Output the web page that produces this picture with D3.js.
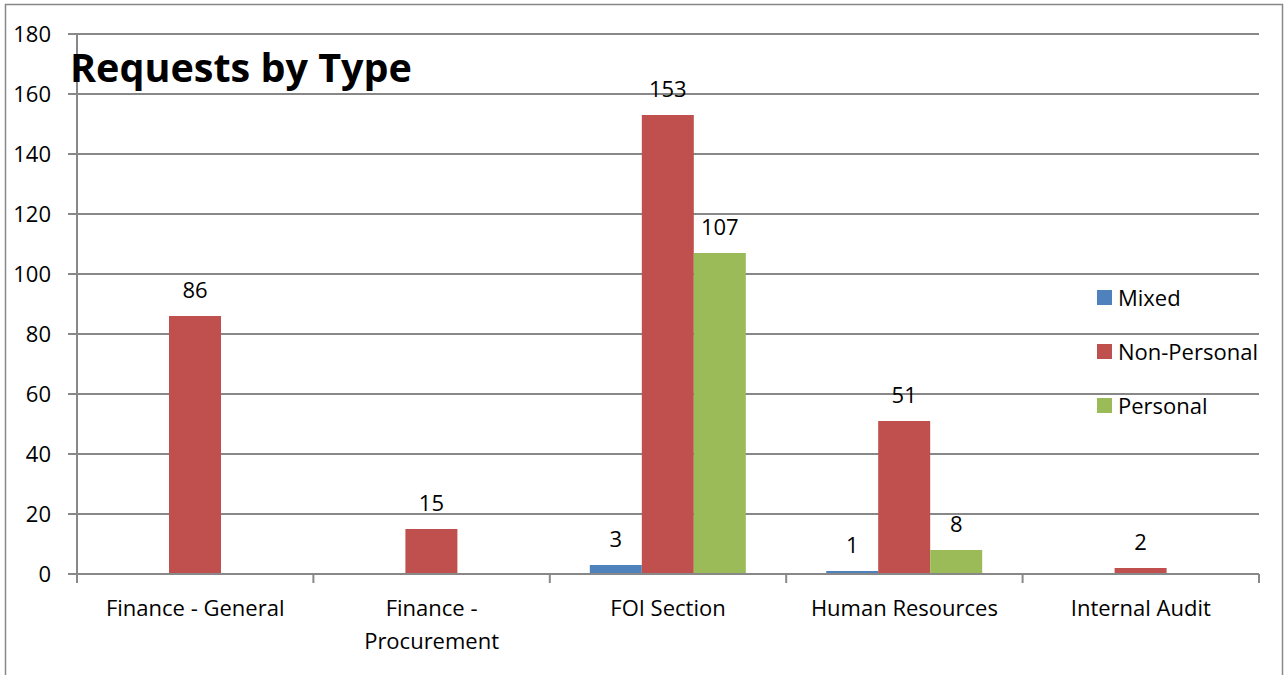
<!DOCTYPE html>
<html>
<head>
<meta charset="utf-8">
<script src="https://cdn.jsdelivr.net/npm/d3@7"></script>
<style>
  body { margin: 0; background: #fff; }
  text { font-family: "Open Sans", "Liberation Sans", sans-serif; fill: #000; }
</style>
</head>
<body>
<div id="chart"></div>
<script>
// chart data
var categories = ["Finance - General", "Finance - Procurement", "FOI Section", "Human Resources", "Internal Audit"];
var series = ["Mixed", "Non-Personal", "Personal"];
var mixed = [0, 0, 3, 1, 0];
var nonPersonal = [86, 15, 153, 51, 2];
var personal = [0, 0, 107, 8, 0];
var yTicks = [0, 20, 40, 60, 80, 100, 120, 140, 160, 180];
var colors = ["#4F81BD", "#C0504D", "#9BBB59"];

var w = 1287, h = 675;
var fs = "22px";
var svg = d3.select("#chart").append("svg").attr("width", w).attr("height", h);

// outer frame
svg.append("rect").attr("x", 5.5).attr("y", 4.5).attr("width", 1277).attr("height", 700)
  .attr("fill", "none").attr("stroke", "#888").attr("stroke-width", 1.5);

var x = d3.scaleBand().domain(categories).range([77, 1259]);
var inner = d3.scaleBand().domain(series).range([40, 196]);
var y = d3.scaleLinear().domain([0, 180]).range([574, 34]);

// gridlines
svg.append("g").selectAll("line").data(yTicks).enter().append("line")
  .attr("x1", 68).attr("x2", 1259)
  .attr("y1", d => y(d)).attr("y2", d => y(d))
  .attr("stroke", "#888").attr("stroke-width", 2);

// y axis
svg.append("line").attr("x1", 77).attr("x2", 77).attr("y1", 34).attr("y2", 574)
  .attr("stroke", "#888").attr("stroke-width", 2);
svg.append("g").selectAll("text").data(yTicks).enter().append("text")
  .attr("x", 51).attr("y", d => y(d)).attr("dy", "0.36em")
  .attr("text-anchor", "end").style("font-size", fs)
  .text(d => d);

// x axis ticks
var bounds = categories.map(c => x(c)).concat([x.range()[1]]);
svg.append("g").selectAll("line").data(bounds).enter().append("line")
  .attr("x1", d => d).attr("x2", d => d).attr("y1", 574).attr("y2", 583)
  .attr("stroke", "#888").attr("stroke-width", 2);

// bars
var table = [mixed, nonPersonal, personal];
var rows = [];
series.forEach(function (s, si) {
  categories.forEach(function (c, ci) {
    rows.push({ s: s, si: si, c: c, v: table[si][ci] });
  });
});

svg.append("g").selectAll("rect").data(rows.filter(d => d.v > 0)).enter().append("rect")
  .attr("x", d => x(d.c) + inner(d.s))
  .attr("width", inner.bandwidth())
  .attr("y", d => y(d.v))
  .attr("height", d => y(0) - y(d.v))
  .attr("fill", d => colors[d.si]);

// redraw baseline over bars
svg.append("line").attr("x1", 68).attr("x2", 1259).attr("y1", y(0)).attr("y2", y(0))
  .attr("stroke", "#888").attr("stroke-width", 2);

// data labels
svg.append("g").selectAll("text").data(rows.filter(d => d.v > 0)).enter().append("text")
  .attr("x", d => x(d.c) + inner(d.s) + inner.bandwidth() / 2)
  .attr("y", d => y(d.v) - 18)
  .attr("text-anchor", "middle").style("font-size", fs)
  .text(d => d.v);

// category labels
var catLines = {
  "Finance - Procurement": ["Finance -", "Procurement"]
};
categories.forEach(function (c) {
  var lines = catLines[c] || [c];
  var t = svg.append("text").attr("text-anchor", "middle").style("font-size", fs)
    .attr("x", x(c) + x.bandwidth() / 2).attr("y", 616);
  lines.forEach(function (l, i) {
    t.append("tspan").attr("x", x(c) + x.bandwidth() / 2).attr("dy", i === 0 ? 0 : 33).text(l);
  });
});

// legend
var lg = svg.append("g").attr("transform", "translate(1097,290)");
series.forEach(function (s, i) {
  lg.append("rect").attr("x", 0).attr("y", i * 54).attr("width", 15).attr("height", 15).attr("fill", colors[i]);
  lg.append("text").attr("x", 21).attr("y", i * 54 + 8).attr("dy", "0.36em")
    .style("font-size", fs).text(s);
});

// title
var title = svg.append("text").attr("x", 70).attr("y", 82)
  .style("font-size", "36px").style("font-weight", "bold").text("Requests by Type");
var tw = title.node().getComputedTextLength();
title.style("font-size", (36 * 342 / tw) + "px");
</script>
</body>
</html>
